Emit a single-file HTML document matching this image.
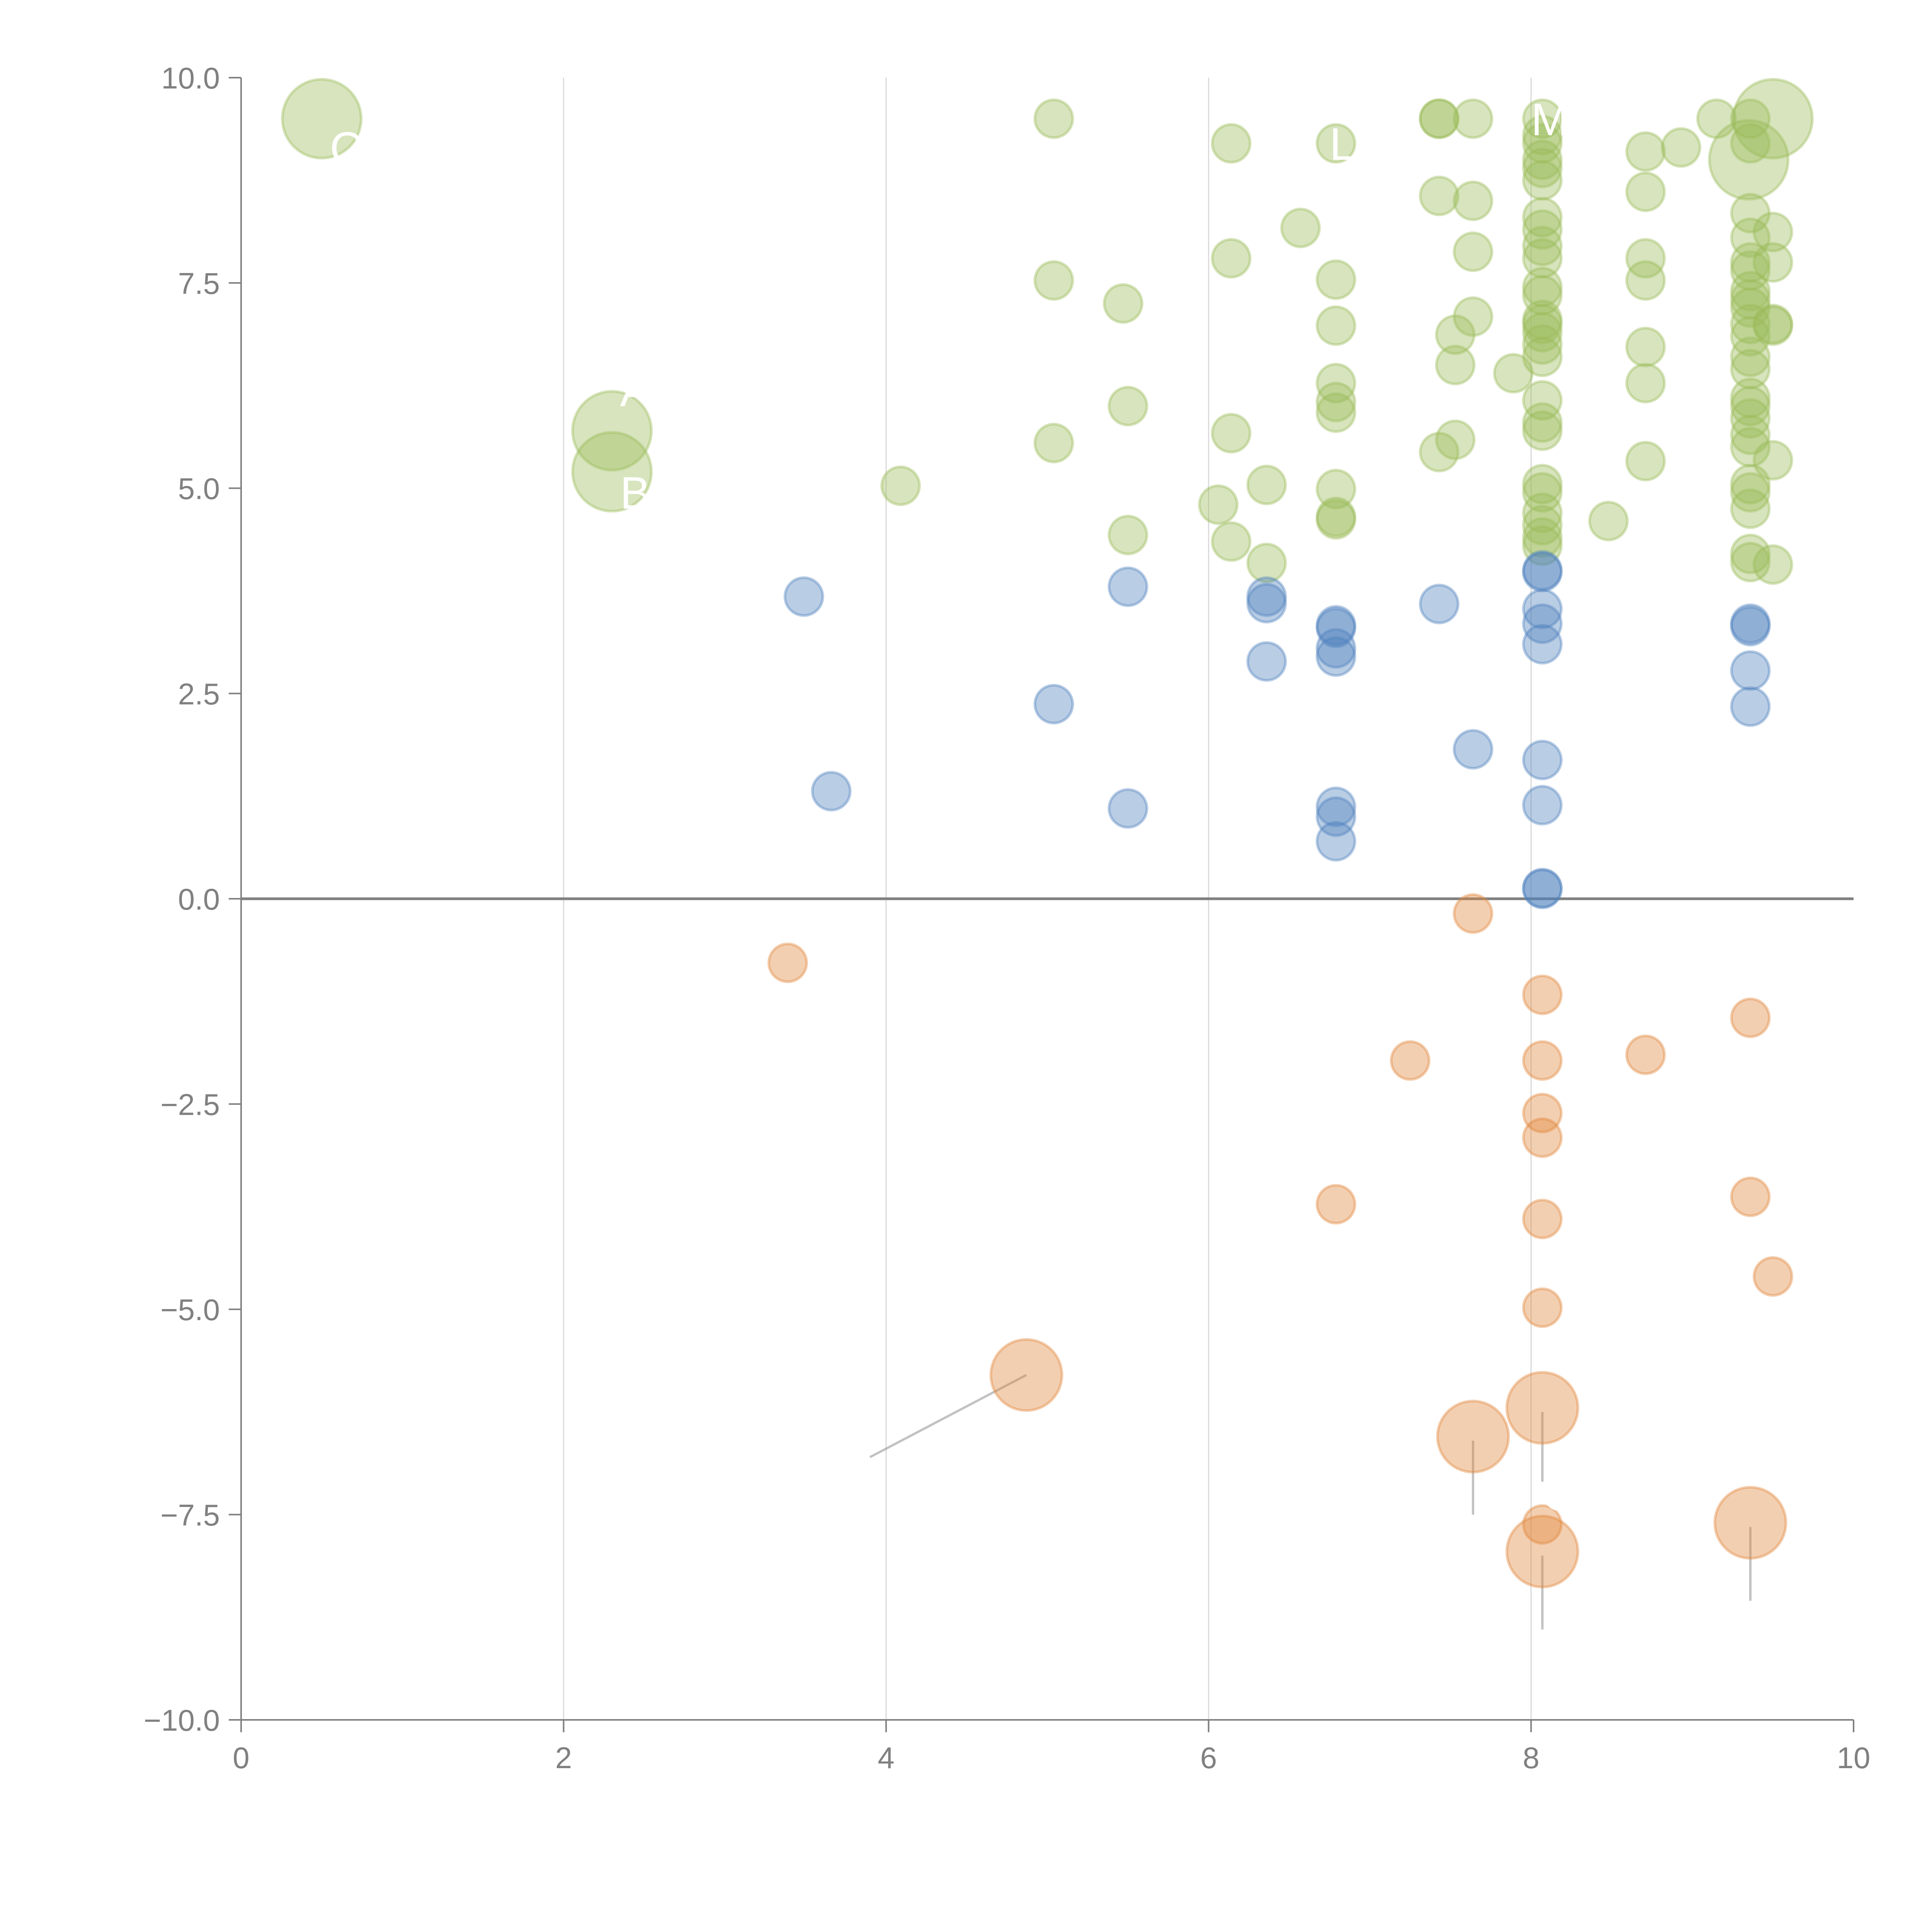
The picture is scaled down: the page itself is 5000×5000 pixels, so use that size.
<!DOCTYPE html>
<html><head><meta charset="utf-8"><style>
html,body{margin:0;padding:0;background:#fff;}
svg{display:block;font-family:"Liberation Sans",Arial,sans-serif;}
</style></head><body>
<svg id="chart" width="5000" height="5000" viewBox="0 0 5000 5000" xmlns="http://www.w3.org/2000/svg">
<g id="grid"></g>
<g id="axes"></g>
<g id="leaders"></g>
<g id="marks"></g>
<g id="labels"></g>
</svg>
<script>
const xTicks=[0,2,4,6,8,10];
const yTicks=[-10,-7.5,-5,-2.5,0,2.5,5,7.5,10];
const yTickLabels=["\u221210.0","\u22127.5","\u22125.0","\u22122.5","0.0","2.5","5.0","7.5","10.0"];
const greenX=[5.04,5.04,5.04,4.09,5.47,5.5,5.5,6.14,6.14,6.14,6.14,6.06,6.36,6.36,6.57,6.79,6.79,6.79,6.79,6.79,6.79,6.79,6.79,6.79,7.43,7.43,7.43,7.43,7.53,7.53,7.53,7.64,7.64,7.64,7.64,7.89,
8.07,8.07,8.07,8.07,8.07,8.07,8.07,8.07,8.07,8.07,8.07,8.07,8.07,8.07,8.07,8.07,8.07,8.07,8.07,8.07,8.07,8.07,8.07,8.07,8.07,8.07,
8.48,8.71,8.71,8.71,8.71,8.71,8.71,8.71,8.93,9.15,
9.36,9.36,9.36,9.36,9.36,9.36,9.36,9.36,9.36,9.36,9.36,9.36,9.36,9.36,9.36,9.36,9.36,9.36,9.36,9.36,9.36,9.36,9.36,
9.5,9.5,9.5,9.5,9.5,9.5];
const greenY=[9.5,7.53,5.55,5.03,7.25,6.0,4.43,9.2,7.8,5.67,4.35,4.8,5.04,4.09,8.17,9.2,7.54,6.98,6.28,6.05,5.92,4.99,4.65,4.62,9.5,9.5,8.56,5.44,6.87,6.5,5.59,9.5,8.5,7.88,7.09,6.4,
9.5,9.3,9.2,9.0,8.9,8.75,8.3,8.15,7.95,7.8,7.45,7.35,7.05,7.0,6.9,6.75,6.6,6.07,5.8,5.7,5.05,4.95,4.7,4.55,4.4,4.3,
4.6,9.1,8.61,7.8,7.53,6.72,6.28,5.33,9.15,9.5,
9.5,9.2,8.35,8.05,7.75,7.65,7.4,7.3,7.2,7.0,6.85,6.6,6.45,6.1,6.0,5.85,5.65,5.5,5.05,4.95,4.75,4.2,4.1,
8.12,7.75,7.0,6.98,5.34,4.07];
const greenBigX=[0.5,2.3,2.3,9.5,9.35];
const greenBigY=[9.5,5.7,5.2,9.5,9.0];
const blueX=[3.49,3.66,5.04,5.5,5.5,6.36,6.36,6.36,6.79,6.79,6.79,6.79,6.79,6.79,6.79,7.43,7.64,8.07,8.07,8.07,8.07,8.07,8.07,8.07,8.07,8.07,9.36,9.36,9.36,9.36];
const blueY=[3.68,1.31,2.37,3.8,1.1,3.68,3.6,2.89,3.33,3.3,3.05,2.95,1.12,1.0,0.7,3.59,1.82,4.0,3.98,3.53,3.35,3.1,1.69,1.14,0.13,0.12,3.35,3.32,2.78,2.34];
const orangeX=[3.39,7.64,7.25,6.79,8.07,8.07,8.07,8.07,8.07,8.07,8.07,8.71,9.36,9.36,9.5];
const orangeY=[-0.78,-0.18,-1.97,-3.72,-1.17,-1.97,-2.61,-2.91,-3.9,-4.98,-7.62,-1.9,-1.45,-3.63,-4.6];
const orangeBigX=[4.87,7.64,8.07,8.07,9.36];
const orangeBigY=[-5.8,-6.55,-6.2,-7.95,-7.6];

const NS="http://www.w3.org/2000/svg";
const X0=624,X1=4797,Y0=4451,Y1=201;
const xs=v=>X0+(v-0)/(10-0)*(X1-X0);
const ys=v=>Y0-(v+10)/20*(Y0-Y1);
function mk(tag,attrs,parent){const e=document.createElementNS(NS,tag);for(const k in attrs)e.setAttribute(k,attrs[k]);parent.appendChild(e);return e;}
const grid=document.getElementById('grid'),axes=document.getElementById('axes'),marks=document.getElementById('marks'),leaders=document.getElementById('leaders'),labels=document.getElementById('labels');

xTicks.forEach(t=>{
  if(t>0&&t<10){const g=mk('line',{x1:xs(t),x2:xs(t),y1:Y1,y2:Y0,stroke:'#d9d9d9','stroke-width':3},grid);
  
  }
  const tk=mk('line',{x1:xs(t),x2:xs(t),y1:Y0,y2:Y0+32,stroke:'#808080','stroke-width':4},axes);
  
  
  const tl=mk('text',{x:xs(t),y:Y0+125,'text-anchor':'middle','font-size':78,fill:'#808080'},axes);tl.textContent=String(t);
  
  
});
yTicks.forEach((t,i)=>{
  const tk=mk('line',{x1:X0-32,x2:X0,y1:ys(t),y2:ys(t),stroke:'#808080','stroke-width':4},axes);
  
  
  const tl=mk('text',{x:X0-55,y:ys(t)+28,'text-anchor':'end','font-size':78,fill:'#808080'},axes);tl.textContent=yTickLabels[i];
  
  
});
const ya=mk('line',{x1:X0,x2:X0,y1:Y1,y2:Y0,stroke:'#808080','stroke-width':4},axes);


const xa=mk('line',{x1:X0,x2:X1,y1:Y0,y2:Y0,stroke:'#808080','stroke-width':4},axes);


const zl=mk('line',{x1:X0,x2:X1,y1:ys(0),y2:ys(0),stroke:'#808080','stroke-width':7},axes);



function bubbles(xa,ya,r,fill,stroke,name){
  xa.forEach((x,i)=>{
    const c=mk('circle',{cx:xs(x),cy:ys(ya[i]),r:r,fill:fill,'fill-opacity':0.4,stroke:stroke,'stroke-opacity':0.4,'stroke-width':7},marks);
    
    
  });
}
bubbles(greenX,greenY,49,'#9bbb59','#9bbb59','green-bubble');
bubbles(greenBigX,greenBigY,102,'#9bbb59','#9bbb59','green-large-bubble');
bubbles(blueX,blueY,49,'#4f81bd','#4f81bd','blue-bubble');
bubbles(orangeX,orangeY,49,'#e0883c','#e0883c','orange-bubble');
bubbles(orangeBigX,orangeBigY,92,'#e0883c','#e0883c','orange-large-bubble');

const lead=[[4.87,-5.8,3.9,-6.8],[7.64,-6.6,7.64,-7.5],[8.07,-6.25,8.07,-7.1],[8.07,-8.0,8.07,-8.9],[9.36,-7.65,9.36,-8.55]];
lead.forEach(l=>{const e=mk('line',{x1:xs(l[0]),y1:ys(l[1]),x2:xs(l[2]),y2:ys(l[3]),stroke:'#999','stroke-opacity':0.6,'stroke-width':6},leaders);
  
  });
const wl=[[0.54,9.45,0.82,9.3],[2.35,5.75,2.63,5.9],[2.35,5.25,2.55,5.1],[6.95,9.25,9.36,8.8],[8.0,9.5,9.36,9.5]];
wl.forEach(l=>{const e=mk('line',{x1:xs(l[0]),y1:ys(l[1]),x2:xs(l[2]),y2:ys(l[3]),stroke:'#fff','stroke-opacity':0.6,'stroke-width':7},leaders);
  
  });
const lab=[["C",0.55,8.95],["A",2.35,6.0],["B",2.35,4.75],["L",6.75,9.0],["M",8.0,9.3],["C",8.07,-7.45]];
lab.forEach(l=>{const t=mk('text',{x:xs(l[1]),y:ys(l[2]),'font-size':118,fill:'#fff'},labels);t.textContent=l[0];
  
  });
</script>
</body></html>
